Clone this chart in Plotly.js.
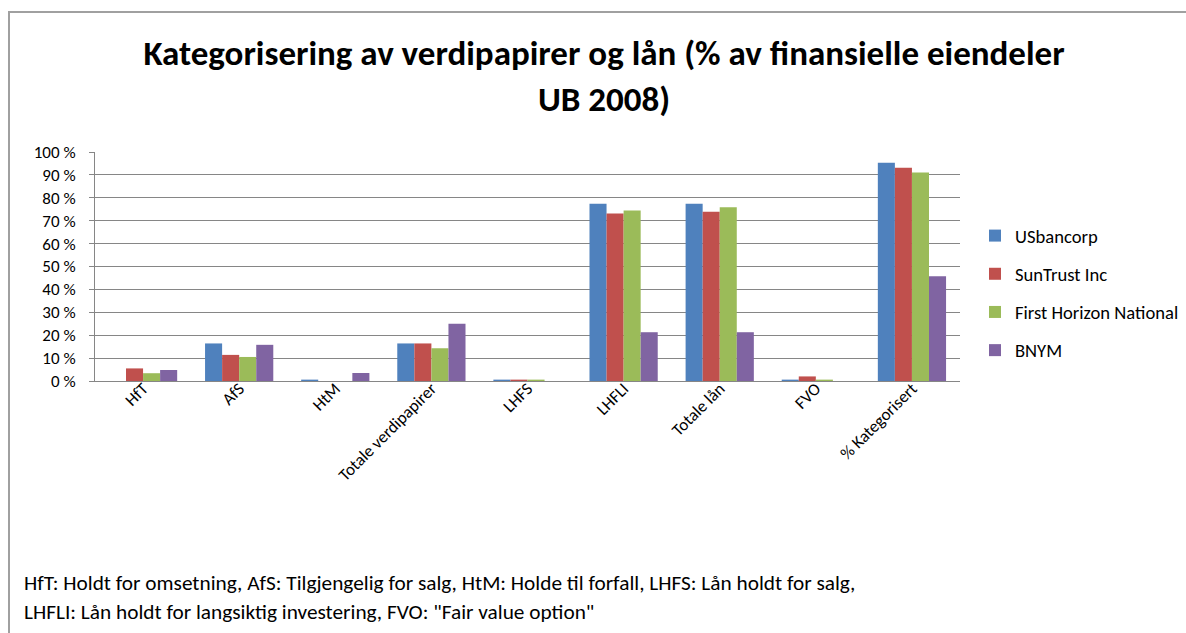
<!DOCTYPE html>
<html>
<head>
<meta charset="utf-8">
<script src="https://cdn.plot.ly/plotly-3.0.1.min.js"></script>
<style>html,body{margin:0;padding:0;background:#fff;}#chart{width:1186px;height:633px;}</style>
</head>
<body>
<div id="chart"></div>
<script>
const categories = ["HfT", "AfS", "HtM", "Totale verdipapirer", "LHFS", "LHFLI", "Totale lån", "FVO", "% Kategorisert"];
const seriesNames = ["USbancorp", "SunTrust Inc", "First Horizon National", "BNYM"];
const usbancorp = [0, 16.4, 0.6, 16.4, 0.6, 77.4, 77.4, 0.6, 95.3];
const suntrust = [5.5, 11.4, 0, 16.4, 0.6, 73.1, 73.9, 2.0, 93.1];
const firstHorizon = [3.4, 10.5, 0, 14.3, 0.6, 74.5, 75.9, 0.6, 91.0];
const bnym = [4.8, 15.8, 3.5, 25.0, 0, 21.3, 21.3, 0, 45.7];
const yTickVals = [0, 10, 20, 30, 40, 50, 60, 70, 80, 90, 100];
const yTickText = ["0 %", "10 %", "20 %", "30 %", "40 %", "50 %", "60 %", "70 %", "80 %", "90 %", "100 %"];
const colors = ["#4F81BD", "#C0504D", "#9BBB59", "#8064A2"];

const font = "Calibri, Carlito, 'Liberation Sans Narrow', 'Open Sans', sans-serif";
const allValues = [usbancorp, suntrust, firstHorizon, bnym];
const traces = allValues.map((v, i) => ({
  type: "bar",
  name: seriesNames[i],
  legendgroup: "g" + i,
  x: categories,
  y: v,
  marker: {color: colors[i], line: {width: 0}},
  hoverinfo: "x+y+name"
}));

const L = 95, R = 960, T = 152, B = 381, W = 1186, H = 633;
const pw = R - L, ph = B - T;
const px = x => (x - L) / pw;
const py = y => (B - y) / ph;

const layout = {
  width: W, height: H,
  margin: {l: L, r: W - R, t: T, b: H - B, pad: 0, autoexpand: false},
  paper_bgcolor: "#fff", plot_bgcolor: "#fff",
  font: {family: font, size: 17, color: "#000"},
  title: {
    text: "Kategorisering av verdipapirer og lån (% av finansielle eiendeler<br>UB 2008)",
    font: {family: font, size: 35, color: "#000", weight: "bold"},
    x: px(604), xref: "paper", xanchor: "center",
    y: 1 - 65 / H, yref: "container", yanchor: "top"
  },
  barmode: "group",
  bargap: 0.29,
  bargroupgap: 0,
  xaxis: {
    type: "category",
    tickangle: -45,
    showline: true, linecolor: "#868686", linewidth: 1,
    ticks: "", showgrid: false,
    ticklabelstandoff: -10,
    automargin: false,
    tickfont: {family: font, size: 17, color: "#000"},
    fixedrange: true
  },
  yaxis: {
    range: [0, 100],
    tickvals: yTickVals, ticktext: yTickText,
    showline: true, linecolor: "#868686", linewidth: 1,
    ticks: "outside", ticklen: 5, tickcolor: "#868686",
    ticklabelstandoff: 10,
    automargin: false,
    showgrid: true, gridcolor: "#868686", gridwidth: 1,
    zeroline: false,
    tickfont: {family: font, size: 17, color: "#000"},
    fixedrange: true
  },
  legend: {
    x: px(975), y: py(217), xanchor: "left", yanchor: "top",
    font: {family: font, size: 18.6, color: "#000"},
    traceorder: "grouped",
    tracegroupgap: 11, itemwidth: 30,
    bgcolor: "rgba(0,0,0,0)"
  },
  shapes: [{
    type: "rect", xref: "paper", yref: "paper",
    x0: px(9), x1: px(1200), y0: py(645), y1: py(12),
    line: {color: "#A0A0A0", width: 2}, fillcolor: "rgba(0,0,0,0)", layer: "below"
  }],
  annotations: [
    {xref: "paper", yref: "paper", x: px(22), y: py(583), xanchor: "left", yanchor: "middle",
     text: "HfT: Holdt for omsetning, AfS: Tilgjengelig for salg, HtM: Holde til forfall, LHFS: Lån holdt for salg,",
     showarrow: false, font: {family: font, size: 21.3, color: "#000"}},
    {xref: "paper", yref: "paper", x: px(22), y: py(612), xanchor: "left", yanchor: "middle",
     text: "LHFLI: Lån holdt for langsiktig investering, FVO: \"Fair value option\"",
     showarrow: false, font: {family: font, size: 21.3, color: "#000"}}
  ],
  showlegend: true
};

Plotly.newPlot("chart", traces, layout, {displayModeBar: false, staticPlot: true});
</script>
</body>
</html>
